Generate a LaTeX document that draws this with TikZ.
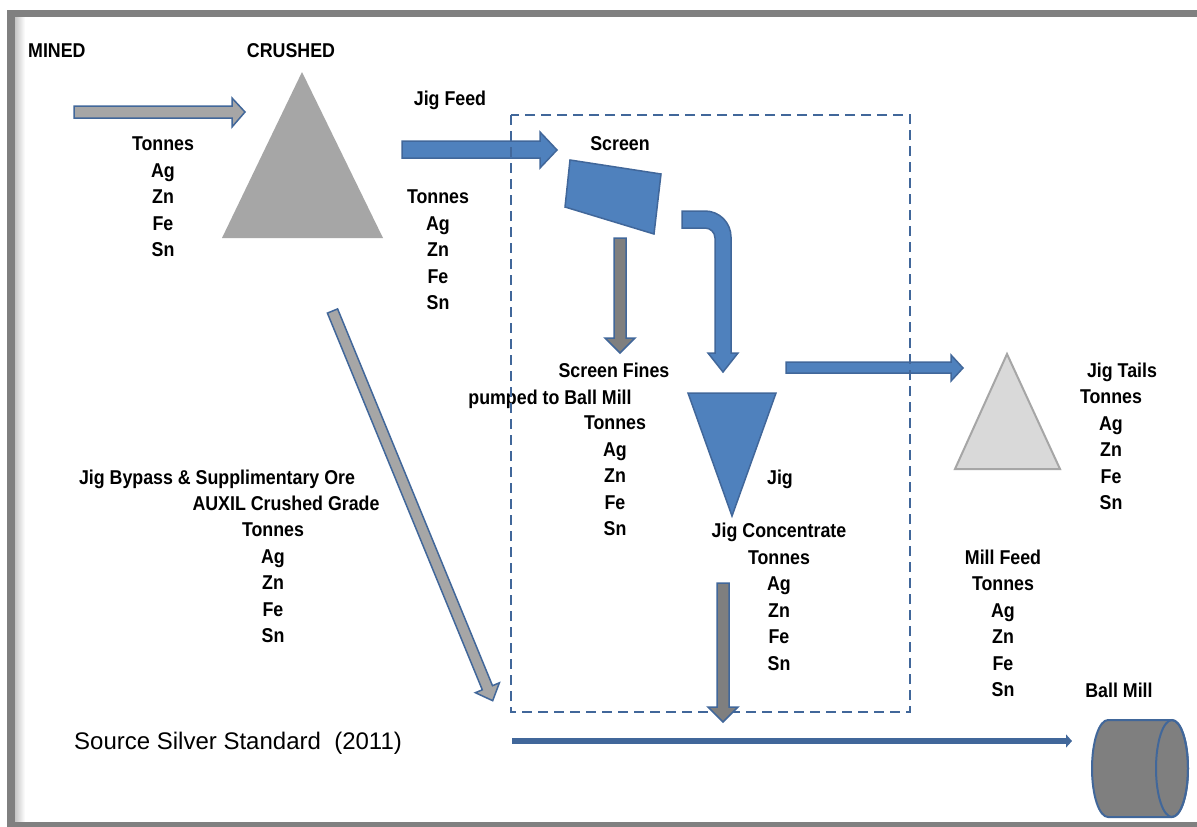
\documentclass[tikz,border=0pt]{standalone}
\usepackage{fontspec}
\setmainfont{Liberation Sans}
\newfontfamily\lblfont[FakeStretch=0.89]{Liberation Sans}
\usetikzlibrary{arrows.meta}
\definecolor{bfill}{HTML}{4F81BD}
\definecolor{bline}{HTML}{41679A}
\definecolor{gfill}{HTML}{A6A6A6}
\definecolor{dgfill}{HTML}{7F7F7F}
\definecolor{lgfill}{HTML}{D9D9D9}
\definecolor{framegray}{HTML}{808080}
\begin{document}
\begin{tikzpicture}[x=1pt,y=-1pt,
  lbl/.style={font=\lblfont\bfseries\fontsize{20}{26.5}\selectfont, align=center, inner sep=0pt, anchor=north},
  srcfont/.style={font=\fontsize{24}{28}\selectfont, inner sep=0pt, anchor=base west},
  bluearrow/.style={fill=bfill, draw=bline, line width=1.5pt, line join=miter},
  grayarrow/.style={fill=gfill, draw=bline, line width=1.5pt, line join=miter},
  darkarrow/.style={fill=dgfill, draw=bline, line width=1.5pt, line join=miter},
  dashbox/.style={draw=bline, line width=2.2pt, dash pattern=on 10pt off 6pt},
  feedline/.style={draw=bline, line width=6pt, -{Triangle[length=6pt,width=13pt]}},
  millbody/.style={fill=dgfill, draw=bline, line width=2pt},
]
\useasboundingbox (0,0) rectangle (1197,827);
\fill[white] (0,0) rectangle (1197,827);
% frame
\fill[framegray] (7,10) rectangle (1197,17);
\fill[framegray] (7,10) rectangle (15,827);
\shade[left color=framegray!45, right color=white] (15,17) rectangle (25,822);
\fill[framegray] (7,822) rectangle (1197,827);

% labels
\node[lbl, anchor=north west] (mined) at (28,43.8) {MINED};
\node[lbl] (crushed) at (291,43.8) {CRUSHED};
\node[lbl] (minedblk) at (163,136.8) {Tonnes\\Ag\\Zn\\Fe\\Sn};
\node[lbl] (jigfeed) at (450,90.8) {Jig Feed};
\node[lbl] (jigfeedblk) at (438,189.8) {Tonnes\\Ag\\Zn\\Fe\\Sn};
\node[lbl] (screen) at (620,136.8) {Screen};
\node[lbl] (sfines) at (614,362.8) {Screen Fines};
\node[lbl] (pumped) at (550,389.8) {pumped to Ball Mill};
\node[lbl] (sfinesblk) at (615,415.8) {Tonnes\\Ag\\Zn\\Fe\\Sn};
\node[lbl] (jigtails) at (1122,362.8) {Jig Tails};
\node[lbl] (jigtailsblk) at (1111,389.8) {Tonnes\\Ag\\Zn\\Fe\\Sn};
\node[lbl] (jig) at (780,469.8) {Jig};
\node[lbl] (jigconc) at (779,522.8) {Jig Concentrate\\Tonnes\\Ag\\Zn\\Fe\\Sn};
\node[lbl] (bypass) at (217,469.8) {Jig Bypass \& Supplimentary Ore};
\node[lbl] (auxil) at (286,495.8) {AUXIL Crushed Grade};
\node[lbl] (bypassblk) at (273,522.8) {Tonnes\\Ag\\Zn\\Fe\\Sn};
\node[lbl] (millfeed) at (1003,549.8) {Mill Feed\\Tonnes\\Ag\\Zn\\Fe\\Sn};
\node[lbl] (ballmilllbl) at (1119,682.8) {Ball Mill};
\node[srcfont] (source) at (74,749.5) {Source Silver Standard\ \ (2011)};

% crushed pile
\fill[gfill] (302,72) -- (222,238) -- (383,238) -- cycle;
% mined arrow
\draw[grayarrow] (74,106) -- (232,106) -- (232,98) -- (245,112) -- (232,127) -- (232,118) -- (74,118) -- cycle;
% jig feed arrow
\draw[bluearrow] (402,141) -- (540,141) -- (540,132) -- (557,150) -- (540,168) -- (540,158) -- (402,158) -- cycle;
% screen
\draw[bluearrow] (570,160) -- (661,174) -- (654,234) -- (565,207) -- cycle;
% screen fines arrow
\draw[darkarrow] (614,238) -- (626,238) -- (626,338) -- (635,338) -- (620,353) -- (605,338) -- (614,338) -- cycle;
% screen oversize to jig
\draw[bluearrow] (682,211) -- (705,211) arc[start angle=-90, end angle=0, radius=26] -- (731,353) -- (738,353) -- (723,372) -- (708,353) -- (715,353) -- (715,238) arc[start angle=0, end angle=-90, radius=10] -- (682,228) -- cycle;
% jig
\draw[bluearrow] (688,393) -- (776,393) -- (732,516) -- cycle;
% jig tails arrow
\draw[bluearrow] (786,362) -- (951,362) -- (951,355) -- (963,368) -- (951,381) -- (951,373) -- (786,373) -- cycle;
% jig tails pile
\draw[fill=lgfill, draw=gfill, line width=2pt] (1007,354) -- (955,469) -- (1060,469) -- cycle;
% bypass arrow
\draw[grayarrow] (337.6,308.9) -- (492.5,685.7) -- (499.4,682.8) -- (492.7,700.7) -- (475.4,692.7) -- (482.3,689.8) -- (327.4,313.1) -- cycle;
% dashed jig plant box
\draw[dashbox] (511,115) rectangle (910,712);
% jig concentrate arrow
\draw[darkarrow] (717,583) -- (729,583) -- (729,707) -- (738,707) -- (723,722) -- (708,707) -- (717,707) -- cycle;
% mill feed line
\coordinate (feedstart) at (512,741);
\coordinate (feedend) at (1072,741);
\draw[feedline] (feedstart) -- (feedend);
% ball mill
\draw[millbody] (1172,720) -- (1108,720) arc[start angle=-90, end angle=-270, x radius=16, y radius=48.5] -- (1172,817) arc[start angle=90, end angle=-90, x radius=16, y radius=48.5] -- cycle;
\draw[draw=bline, line width=2pt] (1172,768.5) ellipse[x radius=16, y radius=48.5];
\end{tikzpicture}
\end{document}
